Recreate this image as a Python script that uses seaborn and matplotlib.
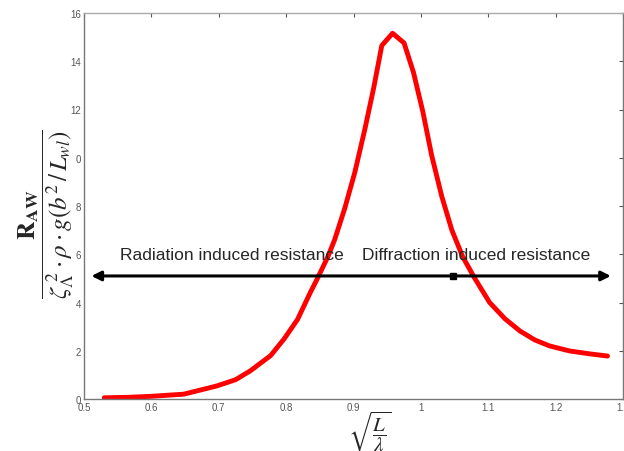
import matplotlib

matplotlib.use("Agg")
import matplotlib.pyplot as plt
import numpy as np
import pandas as pd
import seaborn as sns

# curve values
ratio = [0.530, 0.565, 0.599, 0.648, 0.697, 0.725, 0.747, 0.777, 0.797, 0.817,
         0.836, 0.846, 0.862, 0.872, 0.887, 0.902, 0.917, 0.930, 0.942, 0.958,
         0.975, 0.989, 1.003, 1.016, 1.031, 1.046, 1.062, 1.080, 1.102, 1.125,
         1.147, 1.169, 1.191, 1.221, 1.251, 1.277]
raw = [0.05, 0.07, 0.11, 0.20, 0.54, 0.80, 1.17, 1.80, 2.49, 3.30,
       4.42, 4.97, 5.90, 6.60, 7.90, 9.40, 11.20, 12.90, 14.65, 15.16,
       14.76, 13.54, 11.90, 10.10, 8.40, 7.00, 5.90, 5.00, 4.00, 3.32,
       2.82, 2.45, 2.20, 1.99, 1.87, 1.78]

xticks = [0.5, 0.6, 0.7, 0.8, 0.9, 1.0, 1.1, 1.2, 1.3]
xtick_labels = ["0.5", "0.6", "0.7", "0.8", "0.9", "1", "1.1", "1.2", "1.3"]
yticks = [0, 2, 4, 6, 8, 10, 12, 14, 16]
ytick_labels = ["0", "2", "4", "6", "8", "0", "12", "14", "16"]

arrow_y = 5.1
arrow_x = (0.511, 1.282)
split_x = 1.047

sns.set_style("white")
plt.rcParams["font.family"] = ["Liberation Sans", "DejaVu Sans"]
plt.rcParams["mathtext.fontset"] = "stix"

df = pd.DataFrame({"ratio": ratio, "raw": raw})

fig = plt.figure(figsize=(6.24, 4.52), dpi=100)
ax = fig.add_axes([84 / 624, 52 / 452, 539 / 624, 386 / 452])

sns.lineplot(data=df, x="ratio", y="raw", color="#ff0000", linewidth=3.5, ax=ax)
ax.lines[0].set_solid_joinstyle("round")
ax.lines[0].set_solid_capstyle("round")

ax.annotate("", xy=(arrow_x[1], arrow_y), xytext=(arrow_x[0], arrow_y),
            arrowprops=dict(arrowstyle="<|-|>", color="black", lw=2.2,
                            mutation_scale=14, shrinkA=0, shrinkB=0))
ax.plot([split_x], [arrow_y], marker="s", color="black", markersize=5)
ax.text(0.553, 6.0, "Radiation induced resistance", fontsize=12.5, va="center")
ax.text(0.912, 6.0, "Diffraction induced resistance", fontsize=12.5, va="center")

ax.set_xlim(0.5, 1.3)
ax.set_ylim(0, 16)
ax.set_xticks(xticks)
ax.set_xticklabels(xtick_labels)
ax.set_yticks(yticks)
ax.set_yticklabels(ytick_labels)
ax.tick_params(direction="in", length=3, labelsize=7, colors="#555555",
               top=True, right=True, pad=2)
for side, spine in ax.spines.items():
    spine.set_visible(True)
    spine.set_color("#777777" if side in ("left", "right", "bottom") else "#aaaaaa")
    spine.set_linewidth(1.0)

ax.set_xlabel("")
ax.set_ylabel("")
fig.text(370 / 624, 1 - 432 / 452, r"$\sqrt{\dfrac{L}{\lambda}}$", fontsize=15,
         ha="center", va="center")
fig.text(46 / 624, 1 - 214 / 452,
         r"$\dfrac{\mathbf{R}_{\mathbf{AW}}}{\zeta_{\Lambda}^{\;2}\cdot\rho\cdot g\left(b^{2}\,/\,L_{wl}\right)}$",
         fontsize=18, rotation=90, ha="center", va="center")

fig.savefig("out.png", dpi=100)
